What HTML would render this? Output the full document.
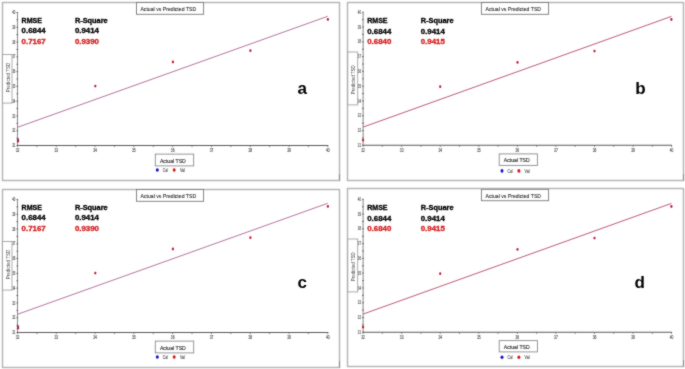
<!DOCTYPE html>
<html><head><meta charset="utf-8"><title>Actual vs Predicted TSD</title>
<style>
html,body{margin:0;padding:0;background:#fff;}
body{width:685px;height:369px;overflow:hidden;}
svg{display:block;font-family:"Liberation Sans", Arial, sans-serif;}
</style></head><body>
<svg width="685" height="369" viewBox="0 0 685 369">
<defs><filter id="soft" color-interpolation-filters="sRGB" filterUnits="userSpaceOnUse" x="0" y="0" width="685" height="369"><feConvolveMatrix order="3" kernelMatrix="1 2 1 2 16 2 1 2 1" divisor="28" edgeMode="duplicate"/></filter></defs>
<g filter="url(#soft)">
<rect width="685" height="369" fill="#fff"/>
<rect x="2.5" y="2.5" width="337" height="178" fill="#fff" stroke="#b6b6b6" stroke-width="1.5"/>
<line x1="339.5" y1="174" x2="339.5" y2="180.5" stroke="#8c8c8c" stroke-width="1"/>
<line x1="17.5" y1="12.480000000000018" x2="17.5" y2="145.5" stroke="#909090" stroke-width="1.1"/>
<line x1="16.5" y1="145.50" x2="18.1" y2="145.50" stroke="#555" stroke-width="0.9"/>
<line x1="16.5" y1="138.11" x2="18.1" y2="138.11" stroke="#555" stroke-width="0.9"/>
<line x1="16.5" y1="130.72" x2="18.1" y2="130.72" stroke="#555" stroke-width="0.9"/>
<line x1="16.5" y1="123.33" x2="18.1" y2="123.33" stroke="#555" stroke-width="0.9"/>
<line x1="16.5" y1="115.94" x2="18.1" y2="115.94" stroke="#555" stroke-width="0.9"/>
<line x1="16.5" y1="108.55" x2="18.1" y2="108.55" stroke="#555" stroke-width="0.9"/>
<line x1="16.5" y1="101.16" x2="18.1" y2="101.16" stroke="#555" stroke-width="0.9"/>
<line x1="16.5" y1="93.77" x2="18.1" y2="93.77" stroke="#555" stroke-width="0.9"/>
<line x1="16.5" y1="86.38" x2="18.1" y2="86.38" stroke="#555" stroke-width="0.9"/>
<line x1="16.5" y1="78.99" x2="18.1" y2="78.99" stroke="#555" stroke-width="0.9"/>
<line x1="16.5" y1="71.60" x2="18.1" y2="71.60" stroke="#555" stroke-width="0.9"/>
<line x1="16.5" y1="64.21" x2="18.1" y2="64.21" stroke="#555" stroke-width="0.9"/>
<line x1="16.5" y1="56.82" x2="18.1" y2="56.82" stroke="#555" stroke-width="0.9"/>
<line x1="16.5" y1="49.43" x2="18.1" y2="49.43" stroke="#555" stroke-width="0.9"/>
<line x1="16.5" y1="42.04" x2="18.1" y2="42.04" stroke="#555" stroke-width="0.9"/>
<line x1="16.5" y1="34.65" x2="18.1" y2="34.65" stroke="#555" stroke-width="0.9"/>
<line x1="16.5" y1="27.26" x2="18.1" y2="27.26" stroke="#555" stroke-width="0.9"/>
<line x1="16.5" y1="19.87" x2="18.1" y2="19.87" stroke="#555" stroke-width="0.9"/>
<line x1="16.5" y1="12.48" x2="18.1" y2="12.48" stroke="#555" stroke-width="0.9"/>
<text x="13.80" y="147.10" font-size="5" fill="#555" stroke="#555" stroke-width="0.18" text-anchor="middle" textLength="3.1" lengthAdjust="spacingAndGlyphs">31</text>
<text x="13.80" y="132.32" font-size="5" fill="#555" stroke="#555" stroke-width="0.18" text-anchor="middle" textLength="3.1" lengthAdjust="spacingAndGlyphs">32</text>
<text x="13.80" y="117.54" font-size="5" fill="#555" stroke="#555" stroke-width="0.18" text-anchor="middle" textLength="3.1" lengthAdjust="spacingAndGlyphs">33</text>
<text x="13.80" y="102.76" font-size="5" fill="#555" stroke="#555" stroke-width="0.18" text-anchor="middle" textLength="3.1" lengthAdjust="spacingAndGlyphs">34</text>
<text x="13.80" y="87.98" font-size="5" fill="#555" stroke="#555" stroke-width="0.18" text-anchor="middle" textLength="3.1" lengthAdjust="spacingAndGlyphs">35</text>
<text x="13.80" y="73.20" font-size="5" fill="#555" stroke="#555" stroke-width="0.18" text-anchor="middle" textLength="3.1" lengthAdjust="spacingAndGlyphs">36</text>
<text x="13.80" y="58.42" font-size="5" fill="#555" stroke="#555" stroke-width="0.18" text-anchor="middle" textLength="3.1" lengthAdjust="spacingAndGlyphs">37</text>
<text x="13.80" y="43.64" font-size="5" fill="#555" stroke="#555" stroke-width="0.18" text-anchor="middle" textLength="3.1" lengthAdjust="spacingAndGlyphs">38</text>
<text x="13.80" y="28.86" font-size="5" fill="#555" stroke="#555" stroke-width="0.18" text-anchor="middle" textLength="3.1" lengthAdjust="spacingAndGlyphs">39</text>
<text x="13.80" y="14.08" font-size="5" fill="#555" stroke="#555" stroke-width="0.18" text-anchor="middle" textLength="3.1" lengthAdjust="spacingAndGlyphs">40</text>
<line x1="17.0" y1="145.5" x2="328.3" y2="145.5" stroke="#5a5a5a" stroke-width="1.1"/>
<line x1="17.50" y1="145.5" x2="17.50" y2="147.1" stroke="#666" stroke-width="0.8"/>
<line x1="36.89" y1="145.5" x2="36.89" y2="147.1" stroke="#666" stroke-width="0.8"/>
<line x1="56.29" y1="145.5" x2="56.29" y2="147.1" stroke="#666" stroke-width="0.8"/>
<line x1="75.68" y1="145.5" x2="75.68" y2="147.1" stroke="#666" stroke-width="0.8"/>
<line x1="95.08" y1="145.5" x2="95.08" y2="147.1" stroke="#666" stroke-width="0.8"/>
<line x1="114.47" y1="145.5" x2="114.47" y2="147.1" stroke="#666" stroke-width="0.8"/>
<line x1="133.86" y1="145.5" x2="133.86" y2="147.1" stroke="#666" stroke-width="0.8"/>
<line x1="153.26" y1="145.5" x2="153.26" y2="147.1" stroke="#666" stroke-width="0.8"/>
<line x1="172.65" y1="145.5" x2="172.65" y2="147.1" stroke="#666" stroke-width="0.8"/>
<line x1="192.04" y1="145.5" x2="192.04" y2="147.1" stroke="#666" stroke-width="0.8"/>
<line x1="211.44" y1="145.5" x2="211.44" y2="147.1" stroke="#666" stroke-width="0.8"/>
<line x1="230.83" y1="145.5" x2="230.83" y2="147.1" stroke="#666" stroke-width="0.8"/>
<line x1="250.23" y1="145.5" x2="250.23" y2="147.1" stroke="#666" stroke-width="0.8"/>
<line x1="269.62" y1="145.5" x2="269.62" y2="147.1" stroke="#666" stroke-width="0.8"/>
<line x1="289.01" y1="145.5" x2="289.01" y2="147.1" stroke="#666" stroke-width="0.8"/>
<line x1="308.41" y1="145.5" x2="308.41" y2="147.1" stroke="#666" stroke-width="0.8"/>
<line x1="327.80" y1="145.5" x2="327.80" y2="147.1" stroke="#666" stroke-width="0.8"/>
<text x="17.50" y="152.10" font-size="5" fill="#555" stroke="#555" stroke-width="0.18" text-anchor="middle" textLength="3.6" lengthAdjust="spacingAndGlyphs">32</text>
<text x="56.29" y="152.10" font-size="5" fill="#555" stroke="#555" stroke-width="0.18" text-anchor="middle" textLength="3.6" lengthAdjust="spacingAndGlyphs">33</text>
<text x="95.08" y="152.10" font-size="5" fill="#555" stroke="#555" stroke-width="0.18" text-anchor="middle" textLength="3.6" lengthAdjust="spacingAndGlyphs">34</text>
<text x="133.86" y="152.10" font-size="5" fill="#555" stroke="#555" stroke-width="0.18" text-anchor="middle" textLength="3.6" lengthAdjust="spacingAndGlyphs">35</text>
<text x="172.65" y="152.10" font-size="5" fill="#555" stroke="#555" stroke-width="0.18" text-anchor="middle" textLength="3.6" lengthAdjust="spacingAndGlyphs">36</text>
<text x="211.44" y="152.10" font-size="5" fill="#555" stroke="#555" stroke-width="0.18" text-anchor="middle" textLength="3.6" lengthAdjust="spacingAndGlyphs">37</text>
<text x="250.23" y="152.10" font-size="5" fill="#555" stroke="#555" stroke-width="0.18" text-anchor="middle" textLength="3.6" lengthAdjust="spacingAndGlyphs">38</text>
<text x="289.01" y="152.10" font-size="5" fill="#555" stroke="#555" stroke-width="0.18" text-anchor="middle" textLength="3.6" lengthAdjust="spacingAndGlyphs">39</text>
<text x="327.80" y="152.10" font-size="5" fill="#555" stroke="#555" stroke-width="0.18" text-anchor="middle" textLength="3.6" lengthAdjust="spacingAndGlyphs">40</text>
<rect x="136.5" y="2.5" width="67.1" height="11.8" fill="#fff" stroke="#7a7a7a" stroke-width="0.9"/>
<text x="140.4" y="11.0" font-size="5.8" fill="#2a2a2a" stroke="#2a2a2a" stroke-width="0.1" textLength="55.8" lengthAdjust="spacingAndGlyphs">Actual vs Predicted TSD</text>
<rect x="2.5" y="54.5" width="9.5" height="48.599999999999994" fill="#fff" stroke="#a2a2a2" stroke-width="0.9"/>
<text x="10.10" y="77.50" font-size="5" fill="#444" text-anchor="middle" textLength="29.5" lengthAdjust="spacingAndGlyphs" transform="rotate(-90 10.10 77.50)">Predicted TSD</text>
<rect x="155.3" y="154.1" width="38.39999999999998" height="11.800000000000011" fill="#fff" stroke="#8a8a8a" stroke-width="0.9"/>
<text x="159.90" y="162.70" font-size="6" fill="#2a2a2a" stroke="#2a2a2a" stroke-width="0.15" textLength="25.9" lengthAdjust="spacingAndGlyphs">Actual TSD</text>
<ellipse cx="157.3" cy="170.0" rx="1.5" ry="1.8" fill="#1010d0"/>
<text x="162.8" y="171.7" font-size="4.8" fill="#555" stroke="#555" stroke-width="0.12" textLength="5" lengthAdjust="spacingAndGlyphs">Cal</text>
<ellipse cx="174.20000000000002" cy="170.0" rx="1.5" ry="1.8" fill="#e01010"/>
<text x="179.9" y="171.7" font-size="4.8" fill="#555" stroke="#555" stroke-width="0.12" textLength="5" lengthAdjust="spacingAndGlyphs">Val</text>
<line x1="17.8" y1="127.2" x2="327.7" y2="16.3" stroke="#b4749e" stroke-width="1.0"/>
<ellipse cx="18" cy="139.6" rx="1.1" ry="1.4" fill="#5040a8"/>
<ellipse cx="18" cy="141.2" rx="1.1" ry="1.4" fill="#d41020"/>
<ellipse cx="95.3" cy="86.1" rx="1.1" ry="1.4" fill="#c4122e"/>
<ellipse cx="172.9" cy="62.0" rx="1.1" ry="1.4" fill="#c4122e"/>
<ellipse cx="250.4" cy="50.7" rx="1.1" ry="1.4" fill="#c4122e"/>
<ellipse cx="327.9" cy="19.4" rx="1.1" ry="1.4" fill="#c4122e"/>
<g font-size="7.6" font-weight="bold" stroke-width="0.32">
<text x="21.6" y="23.1" fill="#000" stroke="#000" textLength="20.4" lengthAdjust="spacingAndGlyphs">RMSE</text>
<text x="74.9" y="23.1" fill="#000" stroke="#000" textLength="32.8" lengthAdjust="spacingAndGlyphs">R-Square</text>
<text x="21.6" y="33.4" fill="#000" stroke="#000" textLength="24.1" lengthAdjust="spacingAndGlyphs">0.6844</text>
<text x="74.9" y="33.4" fill="#000" stroke="#000" textLength="24.1" lengthAdjust="spacingAndGlyphs">0.9414</text>
<text x="21.6" y="43.7" fill="#d41e1e" stroke="#d41e1e" textLength="24.1" lengthAdjust="spacingAndGlyphs">0.7167</text>
<text x="74.9" y="43.7" fill="#d41e1e" stroke="#d41e1e" textLength="24.1" lengthAdjust="spacingAndGlyphs">0.9390</text>
</g>
<text x="297.5" y="94" font-size="17" font-weight="bold" fill="#000">a</text>
<rect x="347.5" y="2.5" width="336" height="178" fill="#fff" stroke="#b6b6b6" stroke-width="1.5"/>
<line x1="683.5" y1="174" x2="683.5" y2="180.5" stroke="#8c8c8c" stroke-width="1"/>
<line x1="363.1" y1="12.28000000000003" x2="363.1" y2="145.3" stroke="#909090" stroke-width="1.1"/>
<line x1="362.1" y1="145.30" x2="363.70000000000005" y2="145.30" stroke="#555" stroke-width="0.9"/>
<line x1="362.1" y1="137.91" x2="363.70000000000005" y2="137.91" stroke="#555" stroke-width="0.9"/>
<line x1="362.1" y1="130.52" x2="363.70000000000005" y2="130.52" stroke="#555" stroke-width="0.9"/>
<line x1="362.1" y1="123.13" x2="363.70000000000005" y2="123.13" stroke="#555" stroke-width="0.9"/>
<line x1="362.1" y1="115.74" x2="363.70000000000005" y2="115.74" stroke="#555" stroke-width="0.9"/>
<line x1="362.1" y1="108.35" x2="363.70000000000005" y2="108.35" stroke="#555" stroke-width="0.9"/>
<line x1="362.1" y1="100.96" x2="363.70000000000005" y2="100.96" stroke="#555" stroke-width="0.9"/>
<line x1="362.1" y1="93.57" x2="363.70000000000005" y2="93.57" stroke="#555" stroke-width="0.9"/>
<line x1="362.1" y1="86.18" x2="363.70000000000005" y2="86.18" stroke="#555" stroke-width="0.9"/>
<line x1="362.1" y1="78.79" x2="363.70000000000005" y2="78.79" stroke="#555" stroke-width="0.9"/>
<line x1="362.1" y1="71.40" x2="363.70000000000005" y2="71.40" stroke="#555" stroke-width="0.9"/>
<line x1="362.1" y1="64.01" x2="363.70000000000005" y2="64.01" stroke="#555" stroke-width="0.9"/>
<line x1="362.1" y1="56.62" x2="363.70000000000005" y2="56.62" stroke="#555" stroke-width="0.9"/>
<line x1="362.1" y1="49.23" x2="363.70000000000005" y2="49.23" stroke="#555" stroke-width="0.9"/>
<line x1="362.1" y1="41.84" x2="363.70000000000005" y2="41.84" stroke="#555" stroke-width="0.9"/>
<line x1="362.1" y1="34.45" x2="363.70000000000005" y2="34.45" stroke="#555" stroke-width="0.9"/>
<line x1="362.1" y1="27.06" x2="363.70000000000005" y2="27.06" stroke="#555" stroke-width="0.9"/>
<line x1="362.1" y1="19.67" x2="363.70000000000005" y2="19.67" stroke="#555" stroke-width="0.9"/>
<line x1="362.1" y1="12.28" x2="363.70000000000005" y2="12.28" stroke="#555" stroke-width="0.9"/>
<text x="359.40" y="146.90" font-size="5" fill="#555" stroke="#555" stroke-width="0.18" text-anchor="middle" textLength="3.1" lengthAdjust="spacingAndGlyphs">31</text>
<text x="359.40" y="132.12" font-size="5" fill="#555" stroke="#555" stroke-width="0.18" text-anchor="middle" textLength="3.1" lengthAdjust="spacingAndGlyphs">32</text>
<text x="359.40" y="117.34" font-size="5" fill="#555" stroke="#555" stroke-width="0.18" text-anchor="middle" textLength="3.1" lengthAdjust="spacingAndGlyphs">33</text>
<text x="359.40" y="102.56" font-size="5" fill="#555" stroke="#555" stroke-width="0.18" text-anchor="middle" textLength="3.1" lengthAdjust="spacingAndGlyphs">34</text>
<text x="359.40" y="87.78" font-size="5" fill="#555" stroke="#555" stroke-width="0.18" text-anchor="middle" textLength="3.1" lengthAdjust="spacingAndGlyphs">35</text>
<text x="359.40" y="73.00" font-size="5" fill="#555" stroke="#555" stroke-width="0.18" text-anchor="middle" textLength="3.1" lengthAdjust="spacingAndGlyphs">36</text>
<text x="359.40" y="58.22" font-size="5" fill="#555" stroke="#555" stroke-width="0.18" text-anchor="middle" textLength="3.1" lengthAdjust="spacingAndGlyphs">37</text>
<text x="359.40" y="43.44" font-size="5" fill="#555" stroke="#555" stroke-width="0.18" text-anchor="middle" textLength="3.1" lengthAdjust="spacingAndGlyphs">38</text>
<text x="359.40" y="28.66" font-size="5" fill="#555" stroke="#555" stroke-width="0.18" text-anchor="middle" textLength="3.1" lengthAdjust="spacingAndGlyphs">39</text>
<text x="359.40" y="13.88" font-size="5" fill="#555" stroke="#555" stroke-width="0.18" text-anchor="middle" textLength="3.1" lengthAdjust="spacingAndGlyphs">40</text>
<line x1="362.6" y1="145.3" x2="672.1" y2="145.3" stroke="#5a5a5a" stroke-width="1.1"/>
<line x1="363.10" y1="145.3" x2="363.10" y2="146.9" stroke="#666" stroke-width="0.8"/>
<line x1="382.38" y1="145.3" x2="382.38" y2="146.9" stroke="#666" stroke-width="0.8"/>
<line x1="401.66" y1="145.3" x2="401.66" y2="146.9" stroke="#666" stroke-width="0.8"/>
<line x1="420.94" y1="145.3" x2="420.94" y2="146.9" stroke="#666" stroke-width="0.8"/>
<line x1="440.23" y1="145.3" x2="440.23" y2="146.9" stroke="#666" stroke-width="0.8"/>
<line x1="459.51" y1="145.3" x2="459.51" y2="146.9" stroke="#666" stroke-width="0.8"/>
<line x1="478.79" y1="145.3" x2="478.79" y2="146.9" stroke="#666" stroke-width="0.8"/>
<line x1="498.07" y1="145.3" x2="498.07" y2="146.9" stroke="#666" stroke-width="0.8"/>
<line x1="517.35" y1="145.3" x2="517.35" y2="146.9" stroke="#666" stroke-width="0.8"/>
<line x1="536.63" y1="145.3" x2="536.63" y2="146.9" stroke="#666" stroke-width="0.8"/>
<line x1="555.91" y1="145.3" x2="555.91" y2="146.9" stroke="#666" stroke-width="0.8"/>
<line x1="575.19" y1="145.3" x2="575.19" y2="146.9" stroke="#666" stroke-width="0.8"/>
<line x1="594.48" y1="145.3" x2="594.48" y2="146.9" stroke="#666" stroke-width="0.8"/>
<line x1="613.76" y1="145.3" x2="613.76" y2="146.9" stroke="#666" stroke-width="0.8"/>
<line x1="633.04" y1="145.3" x2="633.04" y2="146.9" stroke="#666" stroke-width="0.8"/>
<line x1="652.32" y1="145.3" x2="652.32" y2="146.9" stroke="#666" stroke-width="0.8"/>
<line x1="671.60" y1="145.3" x2="671.60" y2="146.9" stroke="#666" stroke-width="0.8"/>
<text x="363.10" y="151.90" font-size="5" fill="#555" stroke="#555" stroke-width="0.18" text-anchor="middle" textLength="3.6" lengthAdjust="spacingAndGlyphs">32</text>
<text x="401.66" y="151.90" font-size="5" fill="#555" stroke="#555" stroke-width="0.18" text-anchor="middle" textLength="3.6" lengthAdjust="spacingAndGlyphs">33</text>
<text x="440.23" y="151.90" font-size="5" fill="#555" stroke="#555" stroke-width="0.18" text-anchor="middle" textLength="3.6" lengthAdjust="spacingAndGlyphs">34</text>
<text x="478.79" y="151.90" font-size="5" fill="#555" stroke="#555" stroke-width="0.18" text-anchor="middle" textLength="3.6" lengthAdjust="spacingAndGlyphs">35</text>
<text x="517.35" y="151.90" font-size="5" fill="#555" stroke="#555" stroke-width="0.18" text-anchor="middle" textLength="3.6" lengthAdjust="spacingAndGlyphs">36</text>
<text x="555.91" y="151.90" font-size="5" fill="#555" stroke="#555" stroke-width="0.18" text-anchor="middle" textLength="3.6" lengthAdjust="spacingAndGlyphs">37</text>
<text x="594.48" y="151.90" font-size="5" fill="#555" stroke="#555" stroke-width="0.18" text-anchor="middle" textLength="3.6" lengthAdjust="spacingAndGlyphs">38</text>
<text x="633.04" y="151.90" font-size="5" fill="#555" stroke="#555" stroke-width="0.18" text-anchor="middle" textLength="3.6" lengthAdjust="spacingAndGlyphs">39</text>
<text x="671.60" y="151.90" font-size="5" fill="#555" stroke="#555" stroke-width="0.18" text-anchor="middle" textLength="3.6" lengthAdjust="spacingAndGlyphs">40</text>
<rect x="481.4" y="2.5" width="67.20000000000005" height="11.8" fill="#fff" stroke="#7a7a7a" stroke-width="0.9"/>
<text x="485.6" y="11.2" font-size="5.8" fill="#2a2a2a" stroke="#2a2a2a" stroke-width="0.1" textLength="55.4" lengthAdjust="spacingAndGlyphs">Actual vs Predicted TSD</text>
<rect x="347.8" y="52.0" width="9.899999999999977" height="52.900000000000006" fill="#fff" stroke="#a2a2a2" stroke-width="0.9"/>
<text x="355.40" y="79.70" font-size="5" fill="#444" text-anchor="middle" textLength="29.0" lengthAdjust="spacingAndGlyphs" transform="rotate(-90 355.40 79.70)">Predicted TSD</text>
<rect x="499.2" y="153.9" width="38.19999999999999" height="11.5" fill="#fff" stroke="#8a8a8a" stroke-width="0.9"/>
<text x="503.80" y="162.20" font-size="6" fill="#2a2a2a" stroke="#2a2a2a" stroke-width="0.15" textLength="25.9" lengthAdjust="spacingAndGlyphs">Actual TSD</text>
<ellipse cx="502.0" cy="170.9" rx="1.5" ry="1.8" fill="#1010d0"/>
<text x="507.5" y="172.6" font-size="4.8" fill="#555" stroke="#555" stroke-width="0.12" textLength="5" lengthAdjust="spacingAndGlyphs">Cal</text>
<ellipse cx="518.9" cy="170.9" rx="1.5" ry="1.8" fill="#e01010"/>
<text x="524.6" y="172.6" font-size="4.8" fill="#555" stroke="#555" stroke-width="0.12" textLength="5" lengthAdjust="spacingAndGlyphs">Val</text>
<line x1="363.1" y1="127.1" x2="671.4" y2="16.4" stroke="#bc5a78" stroke-width="1.0"/>
<ellipse cx="363.1" cy="140.1" rx="1.1" ry="1.4" fill="#d41020"/>
<ellipse cx="440.2" cy="86.7" rx="1.1" ry="1.4" fill="#c4122e"/>
<ellipse cx="517.5" cy="62.4" rx="1.1" ry="1.4" fill="#c4122e"/>
<ellipse cx="594.5" cy="51.1" rx="1.1" ry="1.4" fill="#c4122e"/>
<ellipse cx="671.4" cy="19.5" rx="1.1" ry="1.4" fill="#c4122e"/>
<g font-size="7.6" font-weight="bold" stroke-width="0.32">
<text x="367.2" y="23.4" fill="#000" stroke="#000" textLength="20.4" lengthAdjust="spacingAndGlyphs">RMSE</text>
<text x="420.7" y="23.4" fill="#000" stroke="#000" textLength="32.8" lengthAdjust="spacingAndGlyphs">R-Square</text>
<text x="367.2" y="33.8" fill="#000" stroke="#000" textLength="24.1" lengthAdjust="spacingAndGlyphs">0.6844</text>
<text x="420.7" y="33.8" fill="#000" stroke="#000" textLength="24.1" lengthAdjust="spacingAndGlyphs">0.9414</text>
<text x="367.2" y="44.3" fill="#d41e1e" stroke="#d41e1e" textLength="24.1" lengthAdjust="spacingAndGlyphs">0.6840</text>
<text x="420.7" y="44.3" fill="#d41e1e" stroke="#d41e1e" textLength="24.1" lengthAdjust="spacingAndGlyphs">0.9415</text>
</g>
<text x="635.2" y="93.8" font-size="17" font-weight="bold" fill="#000">b</text>
<rect x="2.5" y="189.5" width="337" height="178" fill="#fff" stroke="#b6b6b6" stroke-width="1.5"/>
<line x1="339.5" y1="361" x2="339.5" y2="367.5" stroke="#8c8c8c" stroke-width="1"/>
<line x1="17.5" y1="199.48000000000002" x2="17.5" y2="332.5" stroke="#909090" stroke-width="1.1"/>
<line x1="16.5" y1="332.50" x2="18.1" y2="332.50" stroke="#555" stroke-width="0.9"/>
<line x1="16.5" y1="325.11" x2="18.1" y2="325.11" stroke="#555" stroke-width="0.9"/>
<line x1="16.5" y1="317.72" x2="18.1" y2="317.72" stroke="#555" stroke-width="0.9"/>
<line x1="16.5" y1="310.33" x2="18.1" y2="310.33" stroke="#555" stroke-width="0.9"/>
<line x1="16.5" y1="302.94" x2="18.1" y2="302.94" stroke="#555" stroke-width="0.9"/>
<line x1="16.5" y1="295.55" x2="18.1" y2="295.55" stroke="#555" stroke-width="0.9"/>
<line x1="16.5" y1="288.16" x2="18.1" y2="288.16" stroke="#555" stroke-width="0.9"/>
<line x1="16.5" y1="280.77" x2="18.1" y2="280.77" stroke="#555" stroke-width="0.9"/>
<line x1="16.5" y1="273.38" x2="18.1" y2="273.38" stroke="#555" stroke-width="0.9"/>
<line x1="16.5" y1="265.99" x2="18.1" y2="265.99" stroke="#555" stroke-width="0.9"/>
<line x1="16.5" y1="258.60" x2="18.1" y2="258.60" stroke="#555" stroke-width="0.9"/>
<line x1="16.5" y1="251.21" x2="18.1" y2="251.21" stroke="#555" stroke-width="0.9"/>
<line x1="16.5" y1="243.82" x2="18.1" y2="243.82" stroke="#555" stroke-width="0.9"/>
<line x1="16.5" y1="236.43" x2="18.1" y2="236.43" stroke="#555" stroke-width="0.9"/>
<line x1="16.5" y1="229.04" x2="18.1" y2="229.04" stroke="#555" stroke-width="0.9"/>
<line x1="16.5" y1="221.65" x2="18.1" y2="221.65" stroke="#555" stroke-width="0.9"/>
<line x1="16.5" y1="214.26" x2="18.1" y2="214.26" stroke="#555" stroke-width="0.9"/>
<line x1="16.5" y1="206.87" x2="18.1" y2="206.87" stroke="#555" stroke-width="0.9"/>
<line x1="16.5" y1="199.48" x2="18.1" y2="199.48" stroke="#555" stroke-width="0.9"/>
<text x="13.80" y="334.10" font-size="5" fill="#555" stroke="#555" stroke-width="0.18" text-anchor="middle" textLength="3.1" lengthAdjust="spacingAndGlyphs">31</text>
<text x="13.80" y="319.32" font-size="5" fill="#555" stroke="#555" stroke-width="0.18" text-anchor="middle" textLength="3.1" lengthAdjust="spacingAndGlyphs">32</text>
<text x="13.80" y="304.54" font-size="5" fill="#555" stroke="#555" stroke-width="0.18" text-anchor="middle" textLength="3.1" lengthAdjust="spacingAndGlyphs">33</text>
<text x="13.80" y="289.76" font-size="5" fill="#555" stroke="#555" stroke-width="0.18" text-anchor="middle" textLength="3.1" lengthAdjust="spacingAndGlyphs">34</text>
<text x="13.80" y="274.98" font-size="5" fill="#555" stroke="#555" stroke-width="0.18" text-anchor="middle" textLength="3.1" lengthAdjust="spacingAndGlyphs">35</text>
<text x="13.80" y="260.20" font-size="5" fill="#555" stroke="#555" stroke-width="0.18" text-anchor="middle" textLength="3.1" lengthAdjust="spacingAndGlyphs">36</text>
<text x="13.80" y="245.42" font-size="5" fill="#555" stroke="#555" stroke-width="0.18" text-anchor="middle" textLength="3.1" lengthAdjust="spacingAndGlyphs">37</text>
<text x="13.80" y="230.64" font-size="5" fill="#555" stroke="#555" stroke-width="0.18" text-anchor="middle" textLength="3.1" lengthAdjust="spacingAndGlyphs">38</text>
<text x="13.80" y="215.86" font-size="5" fill="#555" stroke="#555" stroke-width="0.18" text-anchor="middle" textLength="3.1" lengthAdjust="spacingAndGlyphs">39</text>
<text x="13.80" y="201.08" font-size="5" fill="#555" stroke="#555" stroke-width="0.18" text-anchor="middle" textLength="3.1" lengthAdjust="spacingAndGlyphs">40</text>
<line x1="17.0" y1="332.5" x2="328.3" y2="332.5" stroke="#5a5a5a" stroke-width="1.1"/>
<line x1="17.50" y1="332.5" x2="17.50" y2="334.1" stroke="#666" stroke-width="0.8"/>
<line x1="36.89" y1="332.5" x2="36.89" y2="334.1" stroke="#666" stroke-width="0.8"/>
<line x1="56.29" y1="332.5" x2="56.29" y2="334.1" stroke="#666" stroke-width="0.8"/>
<line x1="75.68" y1="332.5" x2="75.68" y2="334.1" stroke="#666" stroke-width="0.8"/>
<line x1="95.08" y1="332.5" x2="95.08" y2="334.1" stroke="#666" stroke-width="0.8"/>
<line x1="114.47" y1="332.5" x2="114.47" y2="334.1" stroke="#666" stroke-width="0.8"/>
<line x1="133.86" y1="332.5" x2="133.86" y2="334.1" stroke="#666" stroke-width="0.8"/>
<line x1="153.26" y1="332.5" x2="153.26" y2="334.1" stroke="#666" stroke-width="0.8"/>
<line x1="172.65" y1="332.5" x2="172.65" y2="334.1" stroke="#666" stroke-width="0.8"/>
<line x1="192.04" y1="332.5" x2="192.04" y2="334.1" stroke="#666" stroke-width="0.8"/>
<line x1="211.44" y1="332.5" x2="211.44" y2="334.1" stroke="#666" stroke-width="0.8"/>
<line x1="230.83" y1="332.5" x2="230.83" y2="334.1" stroke="#666" stroke-width="0.8"/>
<line x1="250.23" y1="332.5" x2="250.23" y2="334.1" stroke="#666" stroke-width="0.8"/>
<line x1="269.62" y1="332.5" x2="269.62" y2="334.1" stroke="#666" stroke-width="0.8"/>
<line x1="289.01" y1="332.5" x2="289.01" y2="334.1" stroke="#666" stroke-width="0.8"/>
<line x1="308.41" y1="332.5" x2="308.41" y2="334.1" stroke="#666" stroke-width="0.8"/>
<line x1="327.80" y1="332.5" x2="327.80" y2="334.1" stroke="#666" stroke-width="0.8"/>
<text x="17.50" y="339.10" font-size="5" fill="#555" stroke="#555" stroke-width="0.18" text-anchor="middle" textLength="3.6" lengthAdjust="spacingAndGlyphs">32</text>
<text x="56.29" y="339.10" font-size="5" fill="#555" stroke="#555" stroke-width="0.18" text-anchor="middle" textLength="3.6" lengthAdjust="spacingAndGlyphs">33</text>
<text x="95.08" y="339.10" font-size="5" fill="#555" stroke="#555" stroke-width="0.18" text-anchor="middle" textLength="3.6" lengthAdjust="spacingAndGlyphs">34</text>
<text x="133.86" y="339.10" font-size="5" fill="#555" stroke="#555" stroke-width="0.18" text-anchor="middle" textLength="3.6" lengthAdjust="spacingAndGlyphs">35</text>
<text x="172.65" y="339.10" font-size="5" fill="#555" stroke="#555" stroke-width="0.18" text-anchor="middle" textLength="3.6" lengthAdjust="spacingAndGlyphs">36</text>
<text x="211.44" y="339.10" font-size="5" fill="#555" stroke="#555" stroke-width="0.18" text-anchor="middle" textLength="3.6" lengthAdjust="spacingAndGlyphs">37</text>
<text x="250.23" y="339.10" font-size="5" fill="#555" stroke="#555" stroke-width="0.18" text-anchor="middle" textLength="3.6" lengthAdjust="spacingAndGlyphs">38</text>
<text x="289.01" y="339.10" font-size="5" fill="#555" stroke="#555" stroke-width="0.18" text-anchor="middle" textLength="3.6" lengthAdjust="spacingAndGlyphs">39</text>
<text x="327.80" y="339.10" font-size="5" fill="#555" stroke="#555" stroke-width="0.18" text-anchor="middle" textLength="3.6" lengthAdjust="spacingAndGlyphs">40</text>
<rect x="136.5" y="189.5" width="67.1" height="11.800000000000011" fill="#fff" stroke="#7a7a7a" stroke-width="0.9"/>
<text x="140.5" y="198.2" font-size="5.8" fill="#2a2a2a" stroke="#2a2a2a" stroke-width="0.1" textLength="55.6" lengthAdjust="spacingAndGlyphs">Actual vs Predicted TSD</text>
<rect x="2.5" y="241.5" width="9.5" height="48.60000000000002" fill="#fff" stroke="#a2a2a2" stroke-width="0.9"/>
<text x="10.10" y="264.50" font-size="5" fill="#444" text-anchor="middle" textLength="29.5" lengthAdjust="spacingAndGlyphs" transform="rotate(-90 10.10 264.50)">Predicted TSD</text>
<rect x="155.3" y="341.1" width="38.39999999999998" height="11.799999999999955" fill="#fff" stroke="#8a8a8a" stroke-width="0.9"/>
<text x="159.90" y="349.70" font-size="6" fill="#2a2a2a" stroke="#2a2a2a" stroke-width="0.15" textLength="25.9" lengthAdjust="spacingAndGlyphs">Actual TSD</text>
<ellipse cx="157.3" cy="357.0" rx="1.5" ry="1.8" fill="#1010d0"/>
<text x="162.8" y="358.7" font-size="4.8" fill="#555" stroke="#555" stroke-width="0.12" textLength="5" lengthAdjust="spacingAndGlyphs">Cal</text>
<ellipse cx="174.20000000000002" cy="357.0" rx="1.5" ry="1.8" fill="#e01010"/>
<text x="179.9" y="358.7" font-size="4.8" fill="#555" stroke="#555" stroke-width="0.12" textLength="5" lengthAdjust="spacingAndGlyphs">Val</text>
<line x1="17.8" y1="314.2" x2="327.7" y2="203.3" stroke="#b4749e" stroke-width="1.0"/>
<ellipse cx="18" cy="326.6" rx="1.1" ry="1.4" fill="#5040a8"/>
<ellipse cx="18" cy="328.2" rx="1.1" ry="1.4" fill="#d41020"/>
<ellipse cx="95.3" cy="273.1" rx="1.1" ry="1.4" fill="#c4122e"/>
<ellipse cx="172.9" cy="249.0" rx="1.1" ry="1.4" fill="#c4122e"/>
<ellipse cx="250.4" cy="237.7" rx="1.1" ry="1.4" fill="#c4122e"/>
<ellipse cx="327.9" cy="206.4" rx="1.1" ry="1.4" fill="#c4122e"/>
<g font-size="7.6" font-weight="bold" stroke-width="0.32">
<text x="21.6" y="210.1" fill="#000" stroke="#000" textLength="20.4" lengthAdjust="spacingAndGlyphs">RMSE</text>
<text x="74.9" y="210.1" fill="#000" stroke="#000" textLength="32.8" lengthAdjust="spacingAndGlyphs">R-Square</text>
<text x="21.6" y="220.4" fill="#000" stroke="#000" textLength="24.1" lengthAdjust="spacingAndGlyphs">0.6844</text>
<text x="74.9" y="220.4" fill="#000" stroke="#000" textLength="24.1" lengthAdjust="spacingAndGlyphs">0.9414</text>
<text x="21.6" y="230.7" fill="#d41e1e" stroke="#d41e1e" textLength="24.1" lengthAdjust="spacingAndGlyphs">0.7167</text>
<text x="74.9" y="230.7" fill="#d41e1e" stroke="#d41e1e" textLength="24.1" lengthAdjust="spacingAndGlyphs">0.9390</text>
</g>
<text x="297.5" y="288.3" font-size="17" font-weight="bold" fill="#000">c</text>
<rect x="347.5" y="188.5" width="336" height="178" fill="#fff" stroke="#b6b6b6" stroke-width="1.5"/>
<line x1="683.5" y1="360" x2="683.5" y2="366.5" stroke="#8c8c8c" stroke-width="1"/>
<line x1="363.1" y1="199.28000000000003" x2="363.1" y2="332.3" stroke="#909090" stroke-width="1.1"/>
<line x1="362.1" y1="332.30" x2="363.70000000000005" y2="332.30" stroke="#555" stroke-width="0.9"/>
<line x1="362.1" y1="324.91" x2="363.70000000000005" y2="324.91" stroke="#555" stroke-width="0.9"/>
<line x1="362.1" y1="317.52" x2="363.70000000000005" y2="317.52" stroke="#555" stroke-width="0.9"/>
<line x1="362.1" y1="310.13" x2="363.70000000000005" y2="310.13" stroke="#555" stroke-width="0.9"/>
<line x1="362.1" y1="302.74" x2="363.70000000000005" y2="302.74" stroke="#555" stroke-width="0.9"/>
<line x1="362.1" y1="295.35" x2="363.70000000000005" y2="295.35" stroke="#555" stroke-width="0.9"/>
<line x1="362.1" y1="287.96" x2="363.70000000000005" y2="287.96" stroke="#555" stroke-width="0.9"/>
<line x1="362.1" y1="280.57" x2="363.70000000000005" y2="280.57" stroke="#555" stroke-width="0.9"/>
<line x1="362.1" y1="273.18" x2="363.70000000000005" y2="273.18" stroke="#555" stroke-width="0.9"/>
<line x1="362.1" y1="265.79" x2="363.70000000000005" y2="265.79" stroke="#555" stroke-width="0.9"/>
<line x1="362.1" y1="258.40" x2="363.70000000000005" y2="258.40" stroke="#555" stroke-width="0.9"/>
<line x1="362.1" y1="251.01" x2="363.70000000000005" y2="251.01" stroke="#555" stroke-width="0.9"/>
<line x1="362.1" y1="243.62" x2="363.70000000000005" y2="243.62" stroke="#555" stroke-width="0.9"/>
<line x1="362.1" y1="236.23" x2="363.70000000000005" y2="236.23" stroke="#555" stroke-width="0.9"/>
<line x1="362.1" y1="228.84" x2="363.70000000000005" y2="228.84" stroke="#555" stroke-width="0.9"/>
<line x1="362.1" y1="221.45" x2="363.70000000000005" y2="221.45" stroke="#555" stroke-width="0.9"/>
<line x1="362.1" y1="214.06" x2="363.70000000000005" y2="214.06" stroke="#555" stroke-width="0.9"/>
<line x1="362.1" y1="206.67" x2="363.70000000000005" y2="206.67" stroke="#555" stroke-width="0.9"/>
<line x1="362.1" y1="199.28" x2="363.70000000000005" y2="199.28" stroke="#555" stroke-width="0.9"/>
<text x="359.40" y="333.90" font-size="5" fill="#555" stroke="#555" stroke-width="0.18" text-anchor="middle" textLength="3.1" lengthAdjust="spacingAndGlyphs">31</text>
<text x="359.40" y="319.12" font-size="5" fill="#555" stroke="#555" stroke-width="0.18" text-anchor="middle" textLength="3.1" lengthAdjust="spacingAndGlyphs">32</text>
<text x="359.40" y="304.34" font-size="5" fill="#555" stroke="#555" stroke-width="0.18" text-anchor="middle" textLength="3.1" lengthAdjust="spacingAndGlyphs">33</text>
<text x="359.40" y="289.56" font-size="5" fill="#555" stroke="#555" stroke-width="0.18" text-anchor="middle" textLength="3.1" lengthAdjust="spacingAndGlyphs">34</text>
<text x="359.40" y="274.78" font-size="5" fill="#555" stroke="#555" stroke-width="0.18" text-anchor="middle" textLength="3.1" lengthAdjust="spacingAndGlyphs">35</text>
<text x="359.40" y="260.00" font-size="5" fill="#555" stroke="#555" stroke-width="0.18" text-anchor="middle" textLength="3.1" lengthAdjust="spacingAndGlyphs">36</text>
<text x="359.40" y="245.22" font-size="5" fill="#555" stroke="#555" stroke-width="0.18" text-anchor="middle" textLength="3.1" lengthAdjust="spacingAndGlyphs">37</text>
<text x="359.40" y="230.44" font-size="5" fill="#555" stroke="#555" stroke-width="0.18" text-anchor="middle" textLength="3.1" lengthAdjust="spacingAndGlyphs">38</text>
<text x="359.40" y="215.66" font-size="5" fill="#555" stroke="#555" stroke-width="0.18" text-anchor="middle" textLength="3.1" lengthAdjust="spacingAndGlyphs">39</text>
<text x="359.40" y="200.88" font-size="5" fill="#555" stroke="#555" stroke-width="0.18" text-anchor="middle" textLength="3.1" lengthAdjust="spacingAndGlyphs">40</text>
<line x1="362.6" y1="332.3" x2="672.1" y2="332.3" stroke="#5a5a5a" stroke-width="1.1"/>
<line x1="363.10" y1="332.3" x2="363.10" y2="333.90000000000003" stroke="#666" stroke-width="0.8"/>
<line x1="382.38" y1="332.3" x2="382.38" y2="333.90000000000003" stroke="#666" stroke-width="0.8"/>
<line x1="401.66" y1="332.3" x2="401.66" y2="333.90000000000003" stroke="#666" stroke-width="0.8"/>
<line x1="420.94" y1="332.3" x2="420.94" y2="333.90000000000003" stroke="#666" stroke-width="0.8"/>
<line x1="440.23" y1="332.3" x2="440.23" y2="333.90000000000003" stroke="#666" stroke-width="0.8"/>
<line x1="459.51" y1="332.3" x2="459.51" y2="333.90000000000003" stroke="#666" stroke-width="0.8"/>
<line x1="478.79" y1="332.3" x2="478.79" y2="333.90000000000003" stroke="#666" stroke-width="0.8"/>
<line x1="498.07" y1="332.3" x2="498.07" y2="333.90000000000003" stroke="#666" stroke-width="0.8"/>
<line x1="517.35" y1="332.3" x2="517.35" y2="333.90000000000003" stroke="#666" stroke-width="0.8"/>
<line x1="536.63" y1="332.3" x2="536.63" y2="333.90000000000003" stroke="#666" stroke-width="0.8"/>
<line x1="555.91" y1="332.3" x2="555.91" y2="333.90000000000003" stroke="#666" stroke-width="0.8"/>
<line x1="575.19" y1="332.3" x2="575.19" y2="333.90000000000003" stroke="#666" stroke-width="0.8"/>
<line x1="594.48" y1="332.3" x2="594.48" y2="333.90000000000003" stroke="#666" stroke-width="0.8"/>
<line x1="613.76" y1="332.3" x2="613.76" y2="333.90000000000003" stroke="#666" stroke-width="0.8"/>
<line x1="633.04" y1="332.3" x2="633.04" y2="333.90000000000003" stroke="#666" stroke-width="0.8"/>
<line x1="652.32" y1="332.3" x2="652.32" y2="333.90000000000003" stroke="#666" stroke-width="0.8"/>
<line x1="671.60" y1="332.3" x2="671.60" y2="333.90000000000003" stroke="#666" stroke-width="0.8"/>
<text x="363.10" y="338.90" font-size="5" fill="#555" stroke="#555" stroke-width="0.18" text-anchor="middle" textLength="3.6" lengthAdjust="spacingAndGlyphs">32</text>
<text x="401.66" y="338.90" font-size="5" fill="#555" stroke="#555" stroke-width="0.18" text-anchor="middle" textLength="3.6" lengthAdjust="spacingAndGlyphs">33</text>
<text x="440.23" y="338.90" font-size="5" fill="#555" stroke="#555" stroke-width="0.18" text-anchor="middle" textLength="3.6" lengthAdjust="spacingAndGlyphs">34</text>
<text x="478.79" y="338.90" font-size="5" fill="#555" stroke="#555" stroke-width="0.18" text-anchor="middle" textLength="3.6" lengthAdjust="spacingAndGlyphs">35</text>
<text x="517.35" y="338.90" font-size="5" fill="#555" stroke="#555" stroke-width="0.18" text-anchor="middle" textLength="3.6" lengthAdjust="spacingAndGlyphs">36</text>
<text x="555.91" y="338.90" font-size="5" fill="#555" stroke="#555" stroke-width="0.18" text-anchor="middle" textLength="3.6" lengthAdjust="spacingAndGlyphs">37</text>
<text x="594.48" y="338.90" font-size="5" fill="#555" stroke="#555" stroke-width="0.18" text-anchor="middle" textLength="3.6" lengthAdjust="spacingAndGlyphs">38</text>
<text x="633.04" y="338.90" font-size="5" fill="#555" stroke="#555" stroke-width="0.18" text-anchor="middle" textLength="3.6" lengthAdjust="spacingAndGlyphs">39</text>
<text x="671.60" y="338.90" font-size="5" fill="#555" stroke="#555" stroke-width="0.18" text-anchor="middle" textLength="3.6" lengthAdjust="spacingAndGlyphs">40</text>
<rect x="481.4" y="189.3" width="67.20000000000005" height="11.399999999999977" fill="#fff" stroke="#7a7a7a" stroke-width="0.9"/>
<text x="485.6" y="198.2" font-size="5.8" fill="#2a2a2a" stroke="#2a2a2a" stroke-width="0.1" textLength="55.4" lengthAdjust="spacingAndGlyphs">Actual vs Predicted TSD</text>
<rect x="347.8" y="239.0" width="9.899999999999977" height="52.89999999999998" fill="#fff" stroke="#a2a2a2" stroke-width="0.9"/>
<text x="355.40" y="266.70" font-size="5" fill="#444" text-anchor="middle" textLength="29.0" lengthAdjust="spacingAndGlyphs" transform="rotate(-90 355.40 266.70)">Predicted TSD</text>
<rect x="499.2" y="340.6" width="38.19999999999999" height="11.299999999999955" fill="#fff" stroke="#8a8a8a" stroke-width="0.9"/>
<text x="503.80" y="348.70" font-size="6" fill="#2a2a2a" stroke="#2a2a2a" stroke-width="0.15" textLength="25.9" lengthAdjust="spacingAndGlyphs">Actual TSD</text>
<ellipse cx="502.0" cy="357.3" rx="1.5" ry="1.8" fill="#1010d0"/>
<text x="507.5" y="359.0" font-size="4.8" fill="#555" stroke="#555" stroke-width="0.12" textLength="5" lengthAdjust="spacingAndGlyphs">Cal</text>
<ellipse cx="518.9" cy="357.3" rx="1.5" ry="1.8" fill="#e01010"/>
<text x="524.6" y="359.0" font-size="4.8" fill="#555" stroke="#555" stroke-width="0.12" textLength="5" lengthAdjust="spacingAndGlyphs">Val</text>
<line x1="363.1" y1="314.1" x2="671.4" y2="203.4" stroke="#bc5a78" stroke-width="1.0"/>
<ellipse cx="363.1" cy="327.1" rx="1.1" ry="1.4" fill="#d41020"/>
<ellipse cx="440.2" cy="273.7" rx="1.1" ry="1.4" fill="#c4122e"/>
<ellipse cx="517.5" cy="249.4" rx="1.1" ry="1.4" fill="#c4122e"/>
<ellipse cx="594.5" cy="238.1" rx="1.1" ry="1.4" fill="#c4122e"/>
<ellipse cx="671.4" cy="206.5" rx="1.1" ry="1.4" fill="#c4122e"/>
<g font-size="7.6" font-weight="bold" stroke-width="0.32">
<text x="367.2" y="210.4" fill="#000" stroke="#000" textLength="20.4" lengthAdjust="spacingAndGlyphs">RMSE</text>
<text x="420.7" y="210.4" fill="#000" stroke="#000" textLength="32.8" lengthAdjust="spacingAndGlyphs">R-Square</text>
<text x="367.2" y="220.8" fill="#000" stroke="#000" textLength="24.1" lengthAdjust="spacingAndGlyphs">0.6844</text>
<text x="420.7" y="220.8" fill="#000" stroke="#000" textLength="24.1" lengthAdjust="spacingAndGlyphs">0.9414</text>
<text x="367.2" y="231.3" fill="#d41e1e" stroke="#d41e1e" textLength="24.1" lengthAdjust="spacingAndGlyphs">0.6840</text>
<text x="420.7" y="231.3" fill="#d41e1e" stroke="#d41e1e" textLength="24.1" lengthAdjust="spacingAndGlyphs">0.9415</text>
</g>
<text x="634.6" y="287.9" font-size="17" font-weight="bold" fill="#000">d</text>
</g>
</svg>
</body></html>
